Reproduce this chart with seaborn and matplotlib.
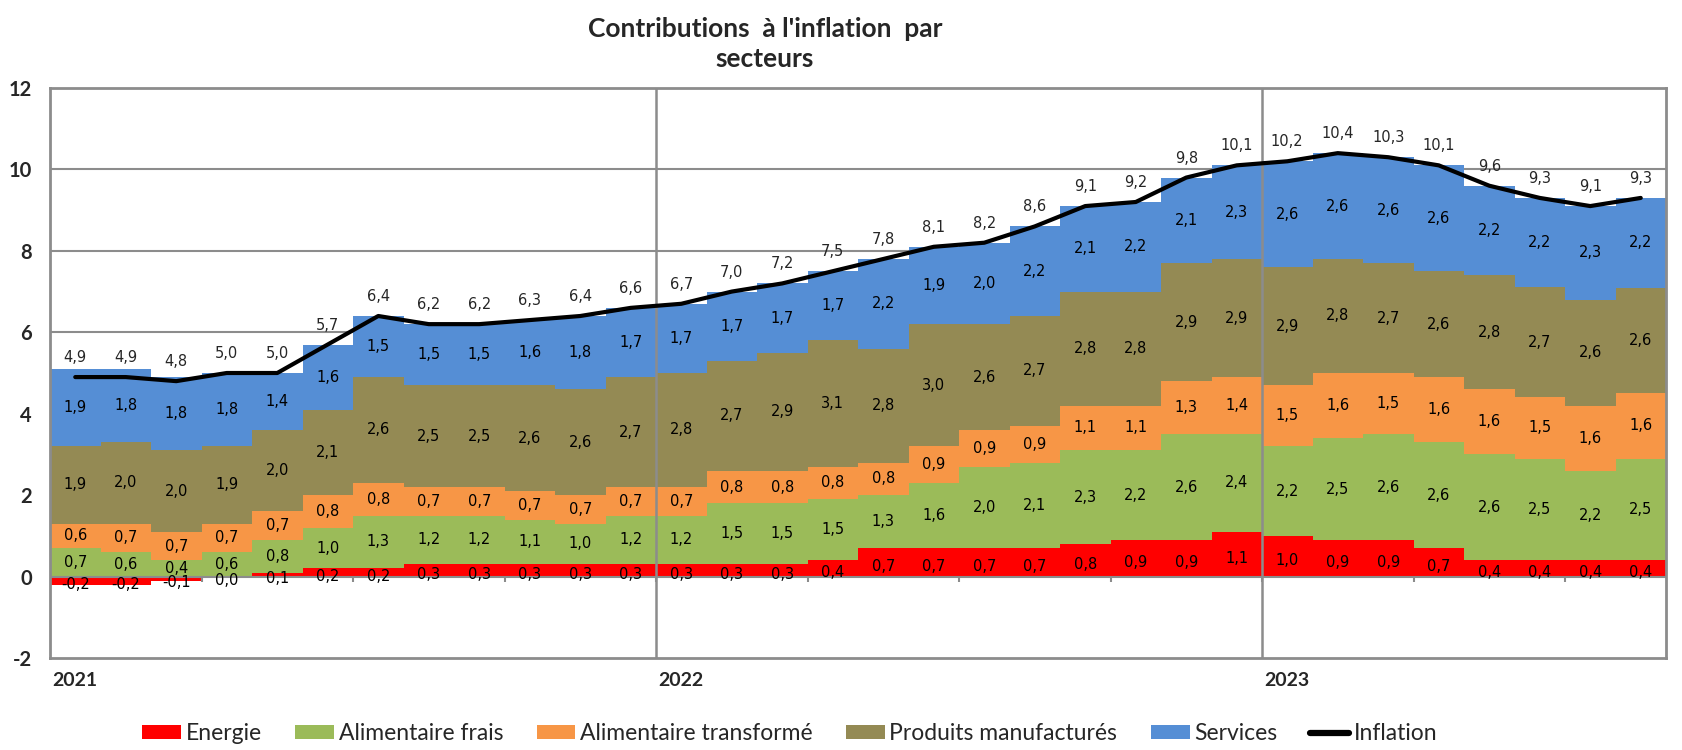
import numpy as np
import pandas as pd
import matplotlib
matplotlib.use("Agg")
import matplotlib.pyplot as plt
import seaborn as sns
from matplotlib.patches import Patch
from matplotlib.lines import Line2D

# ---------------- data ----------------
months = pd.date_range("2021-01-01", "2023-08-01", freq="MS")
energie = [-0.2, -0.2, -0.1, 0.0, 0.1, 0.2, 0.2, 0.3, 0.3, 0.3, 0.3, 0.3,
           0.3, 0.3, 0.3, 0.4, 0.7, 0.7, 0.7, 0.7, 0.8, 0.9, 0.9, 1.1,
           1.0, 0.9, 0.9, 0.7, 0.4, 0.4, 0.4, 0.4]
alim_frais = [0.7, 0.6, 0.4, 0.6, 0.8, 1.0, 1.3, 1.2, 1.2, 1.1, 1.0, 1.2,
              1.2, 1.5, 1.5, 1.5, 1.3, 1.6, 2.0, 2.1, 2.3, 2.2, 2.6, 2.4,
              2.2, 2.5, 2.6, 2.6, 2.6, 2.5, 2.2, 2.5]
alim_transf = [0.6, 0.7, 0.7, 0.7, 0.7, 0.8, 0.8, 0.7, 0.7, 0.7, 0.7, 0.7,
               0.7, 0.8, 0.8, 0.8, 0.8, 0.9, 0.9, 0.9, 1.1, 1.1, 1.3, 1.4,
               1.5, 1.6, 1.5, 1.6, 1.6, 1.5, 1.6, 1.6]
prod_manuf = [1.9, 2.0, 2.0, 1.9, 2.0, 2.1, 2.6, 2.5, 2.5, 2.6, 2.6, 2.7,
              2.8, 2.7, 2.9, 3.1, 2.8, 3.0, 2.6, 2.7, 2.8, 2.8, 2.9, 2.9,
              2.9, 2.8, 2.7, 2.6, 2.8, 2.7, 2.6, 2.6]
services = [1.9, 1.8, 1.8, 1.8, 1.4, 1.6, 1.5, 1.5, 1.5, 1.6, 1.8, 1.7,
            1.7, 1.7, 1.7, 1.7, 2.2, 1.9, 2.0, 2.2, 2.1, 2.2, 2.1, 2.3,
            2.6, 2.6, 2.6, 2.6, 2.2, 2.2, 2.3, 2.2]
inflation = [4.9, 4.9, 4.8, 5.0, 5.0, 5.7, 6.4, 6.2, 6.2, 6.3, 6.4, 6.6,
             6.7, 7.0, 7.2, 7.5, 7.8, 8.1, 8.2, 8.6, 9.1, 9.2, 9.8, 10.1,
             10.2, 10.4, 10.3, 10.1, 9.6, 9.3, 9.1, 9.3]
series_names = ["Energie", "Alimentaire frais", "Alimentaire transformé",
                "Produits manufacturés", "Services"]
year_labels = ["2021", "2022", "2023"]
y_ticks = [-2, 0, 2, 4, 6, 8, 10, 12]

colors = ["#FF0000", "#9BBB59", "#F79646", "#948A54", "#558ED5"]
grid_col = "#8C8C8C"

sns.set_style("white")
plt.rcParams["font.family"] = ["DejaVu Sans"]

def fr(v):
    return f"{v:.1f}".replace(".", ",")

fig = plt.figure(figsize=(16.82, 7.5), dpi=100)
ax = fig.add_axes([50/1682, 1-658/750, (1666-50)/1682, (658-88)/750])

x = np.arange(len(months))
data = [energie, alim_frais, alim_transf, prod_manuf, services]

# horizontal grid
for yv in y_ticks[2:-1]:
    ax.axhline(yv, color=grid_col, lw=1.5, zorder=0)

pos_base = np.zeros(len(x))
neg_base = np.zeros(len(x))
for k, (vals, col) in enumerate(zip(data, colors)):
    v = np.array(vals, dtype=float)
    bottom = np.where(v >= 0, pos_base, neg_base)
    ax.bar(x, v, bottom=bottom, width=1.0, color=col, linewidth=0, zorder=2)
    shift = -0.1 if k == 0 else 0.0
    for xi, vi, bi in zip(x, v, bottom):
        ax.text(xi, bi + vi/2 + shift, fr(vi), ha="center", va="center",
                fontsize=10.5, color="black", zorder=6)
    pos_base = pos_base + np.where(v >= 0, v, 0)
    neg_base = neg_base + np.where(v < 0, v, 0)

# year separators and zero axis
for b in [11.5, 23.5]:
    ax.axvline(b, color=grid_col, lw=1.8, zorder=4)
ax.axhline(0, color=grid_col, lw=1.5, zorder=3)
ax.vlines(np.arange(2.5, len(x), 3), -0.13, 0, color=grid_col, lw=1.5, zorder=3)

# inflation line
df = pd.DataFrame({"x": x, "inflation": inflation})
sns.lineplot(data=df, x="x", y="inflation", color="black", lw=3, ax=ax,
             zorder=5, legend=False)
for xi, yi in zip(x, inflation):
    ax.annotate(fr(yi), (xi, yi), xytext=(0, 14), textcoords="offset points",
                ha="center", va="center", fontsize=10.5, zorder=7)

ax.set_xlim(-0.5, len(x) - 0.5)
ax.set_ylim(-2, 12)
ax.set_yticks(y_ticks)
ax.set_yticklabels([str(t) for t in y_ticks], fontweight="bold", fontsize=14.5,
                   family="Lato")
ax.tick_params(axis="y", length=0, pad=13)
ax.set_xticks([])
ax.set_xlabel("")
ax.set_ylabel("")
for s in ax.spines.values():
    s.set_color(grid_col)
    s.set_linewidth(2)

for i, lab in enumerate(year_labels):
    ax.text(-0.45 + 12*i, -2.55, lab, ha="left", va="center", fontsize=14,
            fontweight="bold", family="Lato")

fig.text(765/1682, 1-29/750, "Contributions  à l'inflation  par", ha="center",
         va="center", fontsize=19, fontweight="bold", family="Lato")
fig.text(765/1682, 1-59/750, "secteurs", ha="center", va="center",
         fontsize=19, fontweight="bold", family="Lato")

handles = [Patch(facecolor=c, edgecolor="none") for c in colors]
handles.append(Line2D([0], [0], color="black", lw=4.5))
labels = series_names + ["Inflation"]
fig.legend(handles, labels, loc="center", bbox_to_anchor=(790/1682, 1-734/750),
           ncol=6, frameon=False, prop={"family": "Lato", "size": 16.5},
           handlelength=1.7, handleheight=0.55, handletextpad=0.2,
           columnspacing=1.45)

fig.savefig("out.png", dpi=100)
